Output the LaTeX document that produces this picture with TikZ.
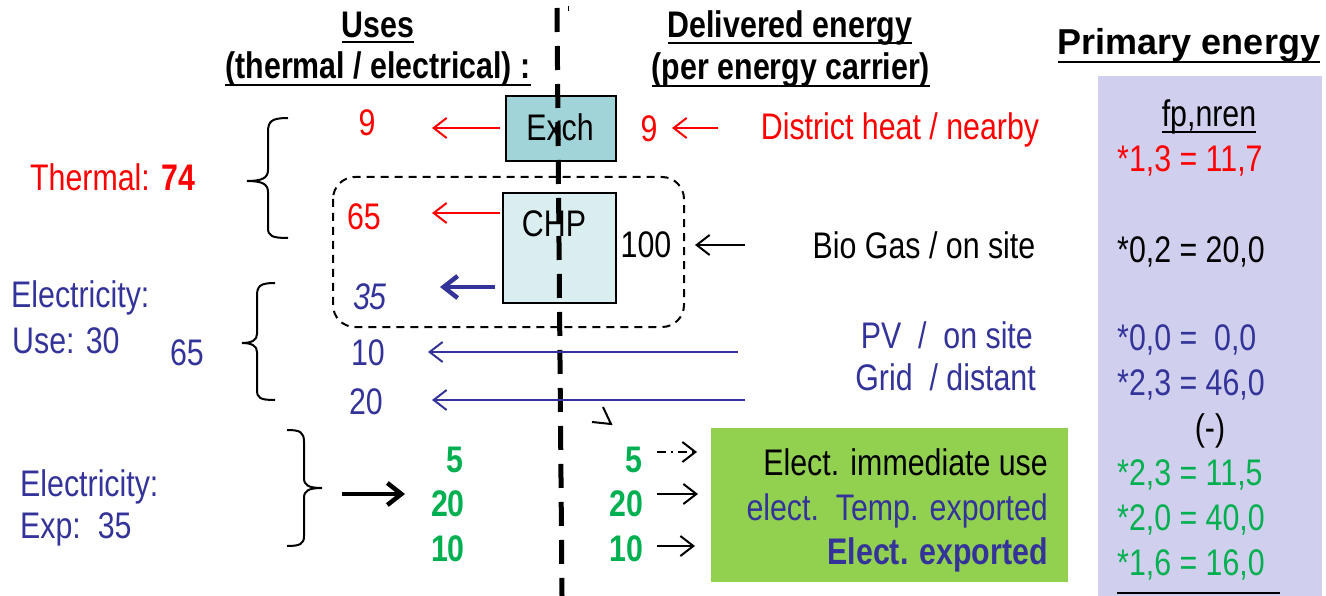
\documentclass[tikz,border=0pt]{standalone}
\usepackage{fontspec}
\setmainfont{Liberation Sans}[FakeStretch=0.82]
\newfontfamily\widefont{Liberation Sans}
\usetikzlibrary{arrows.meta}
\definecolor{myred}{RGB}{255,0,0}
\definecolor{myblue}{RGB}{51,51,153}
\definecolor{mygreen}{RGB}{0,176,80}
\definecolor{boxgreen}{RGB}{146,208,80}
\definecolor{panel}{RGB}{208,208,238}
\definecolor{exchfill}{RGB}{160,212,216}
\definecolor{chpfill}{RGB}{218,238,240}
\begin{document}
\begin{tikzpicture}[x=1pt,y=-1pt,
  body/.style={inner sep=0pt, anchor=base, font=\fontsize{37}{44}\selectfont},
  head/.style={body, font=\fontsize{37}{44}\selectfont\bfseries},
  uline/.style={line width=2.2pt},
  thin/.style={line width=2pt, -{Straight Barb[length=13pt,width=20pt]}},
  thickarr/.style={line width=4.5pt, -{Straight Barb[length=14pt,width=22pt]}},
  brace/.style={line width=2pt},
  boxst/.style={draw=black, line width=2pt, inner sep=0pt}]
\useasboundingbox (0,0) rectangle (1326,596);
% background panels
\fill[panel] (1098,76) rectangle (1322,596);
\fill[boxgreen] (711,428) rectangle (1068,582);
% headers
\node[head] (uses) at (378,38) {Uses};
\draw[uline] ([yshift=-4pt]uses.base west) -- ([yshift=-4pt]uses.base east);
\node[head] (usesb) at (378,79) {(thermal / electrical) :};
\draw[uline] ([yshift=-6pt]usesb.base west) -- ([yshift=-6pt]usesb.base east);
\node[head] (deliv) at (790,38) {Delivered energy};
\draw[uline] ([yshift=-5pt]deliv.base west) -- ([yshift=-5pt]deliv.base east);
\node[head] (delivb) at (791,80) {(per energy carrier)};
\draw[uline] ([yshift=-6pt]delivb.base west) -- ([yshift=-6pt]delivb.base east);
\node[inner sep=0pt, anchor=base, font=\fontsize{36}{44}\selectfont\widefont\bfseries] (prim) at (1189,55) {Primary energy};
\draw[uline] ([yshift=-7pt]prim.base west) -- ([yshift=-7pt]prim.base east);
% boxes
\node[boxst, fill=exchfill, minimum width=110pt, minimum height=65pt, anchor=north west] (exch) at (505,95) {};
\node[boxst, fill=chpfill, minimum width=113pt, minimum height=110pt, anchor=north west] (chp) at (502,192) {};
\draw[line width=2pt, dash pattern=on 8pt off 6pt, rounded corners=22pt] (333,177) rectangle (684,327);
\node[body] (exchl) at (560,141) {Exch};
\node[body] (chpl) at (554,237) {CHP};
% vertical dashed line
\draw[line width=5pt, dash pattern=on 24pt off 14pt] (557,8) -- (562,596);
\draw[line width=1pt] (568,6) -- (568,11);
% left labels and braces
\node[body, anchor=base west, text=myred] (therm) at (30,191) {Thermal: \textbf{74}};
\draw[brace] (288,118) .. controls (272,118) and (268,121) .. (268,132) -- (268,170) .. controls (268,178) and (262,181) .. (247,181) .. controls (262,181) and (268,184) .. (268,192) -- (268,228) .. controls (268,236) and (272,238) .. (288,238);
\node[body, anchor=base west, text=myblue] (elec1) at (11,308) {Electricity:};
\node[body, anchor=base west, text=myblue] (use30) at (12,353) {Use: 30};
\node[body, text=myblue] (n65b) at (187,365) {65};
\draw[brace] (275,283) .. controls (260,283) and (257,286) .. (257,296) -- (257,334) .. controls (257,340) and (252,343) .. (242,343) .. controls (252,343) and (257,346) .. (257,352) -- (257,390) .. controls (257,398) and (260,400) .. (275,400);
\node[body, anchor=base west, text=myblue] (elec2) at (20,496) {Electricity:};
\node[body, anchor=base west, text=myblue] (exp35) at (20,538) {Exp:\ \ 35};
\draw[brace] (287,430) .. controls (300,430) and (304,432) .. (304,442) -- (304,478) .. controls (304,485) and (308,488) .. (322,488) .. controls (308,488) and (304,491) .. (304,498) -- (304,536) .. controls (304,544) and (300,546) .. (287,546);
% uses column
\node[body, text=myred] (u9) at (367,136) {9};
\node[body, text=myred] (u65) at (364,230) {65};
\node[body, text=myblue, font=\fontsize{37}{44}\selectfont\itshape] (u35) at (370,309) {35};
\node[body, text=myblue] (u10) at (368,365) {10};
\node[body, text=myblue] (u20) at (366,414) {20};
\node[body, text=mygreen, font=\fontsize{37}{44}\selectfont\bfseries] (u5g) at (455,472) {5};
\node[body, text=mygreen, font=\fontsize{37}{44}\selectfont\bfseries] (u20g) at (448,516) {20};
\node[body, text=mygreen, font=\fontsize{37}{44}\selectfont\bfseries] (u10g) at (448,561) {10};
% delivered column
\node[body, text=myred] (d9) at (649,142) {9};
\node[body] (d100) at (646,258) {100};
\node[body, text=mygreen, font=\fontsize{37}{44}\selectfont\bfseries] (d5g) at (634,472) {5};
\node[body, text=mygreen, font=\fontsize{37}{44}\selectfont\bfseries] (d20g) at (626,516) {20};
\node[body, text=mygreen, font=\fontsize{37}{44}\selectfont\bfseries] (d10g) at (626,561) {10};
% carriers
\node[body, text=myred] (dh) at (900,140) {District heat / nearby};
\node[body] (bio) at (924,259) {Bio Gas / on site};
\node[body, anchor=base east, text=myblue] (pv) at (1033,348) {PV\ \ /\ \ on site};
\node[body, anchor=base east, text=myblue] (grid) at (1036,390) {Grid\ \ / distant};
\node[body, anchor=base east] (eim) at (1048,475) {Elect. immediate use};
\node[body, anchor=base east, text=myblue] (etmp) at (1048,520) {elect.\ \ Temp. exported};
\node[body, anchor=base east, text=myblue, font=\fontsize{37}{44}\selectfont\bfseries] (eexp) at (1048,564) {Elect. exported};
% primary energy column
\node[body] (fp) at (1209,127) {fp,nren};
\draw[line width=1.5pt] ([yshift=-5pt]fp.base west) -- ([yshift=-5pt]fp.base east);
\node[body, anchor=base west, text=myred] (p1) at (1117,172) {*1,3 = 11,7};
\node[body, anchor=base west] (p2) at (1117,262) {*0,2 = 20,0};
\node[body, anchor=base west, text=myblue] (p3) at (1117,350) {*0,0 =\ \ 0,0};
\node[body, anchor=base west, text=myblue] (p4) at (1117,395) {*2,3 = 46,0};
\node[body] (pm) at (1210,440) {(-)};
\node[body, anchor=base west, text=mygreen] (p5) at (1117,485) {*2,3 = 11,5};
\node[body, anchor=base west, text=mygreen] (p6) at (1117,530) {*2,0 = 40,0};
\node[body, anchor=base west, text=mygreen] (p7) at (1117,575) {*1,6 = 16,0};
\draw[line width=2pt] (1117,593) -- (1280,593);
% arrow coordinates
\coordinate (a1s) at (500,128); \coordinate (a1e) at (432,128);
\coordinate (a2s) at (718,128); \coordinate (a2e) at (672,128);
\coordinate (a3s) at (500,213); \coordinate (a3e) at (432,213);
\coordinate (a4s) at (495,287); \coordinate (a4e) at (440,287);
\coordinate (a5s) at (745,245); \coordinate (a5e) at (695,245);
\coordinate (a6s) at (738,352); \coordinate (a6e) at (428,352);
\coordinate (a7s) at (745,400); \coordinate (a7e) at (432,400);
\coordinate (a8s) at (342,494); \coordinate (a8e) at (405,494);
\coordinate (a9s) at (657,452); \coordinate (a9e) at (697,452);
\coordinate (a10s) at (657,494); \coordinate (a10e) at (698,494);
\coordinate (a11s) at (657,546); \coordinate (a11e) at (695,546);
\draw[thin, myred] (a1s) -- (a1e);
\draw[thin, myred] (a2s) -- (a2e);
\draw[thin, myred] (a3s) -- (a3e);
\draw[thickarr, myblue] (a4s) -- (a4e);
\draw[thin] (a5s) -- (a5e);
\draw[thin, myblue] (a6s) -- (a6e);
\draw[thin, myblue] (a7s) -- (a7e);
\draw[thickarr] (a8s) -- (a8e);
\draw[thin, dash pattern=on 9pt off 5pt on 2pt off 5pt] (a9s) -- (a9e);
\draw[thin] (a10s) -- (a10e);
\draw[thin] (a11s) -- (a11e);
% stray mark
\draw[line width=2pt] (592,422) -- (611,424) -- (603,407);
\end{tikzpicture}
\end{document}
